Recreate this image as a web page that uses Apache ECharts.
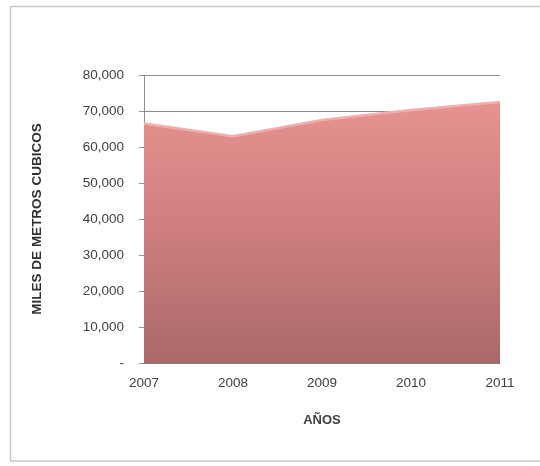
<!DOCTYPE html>
<html>
<head>
<meta charset="utf-8">
<script src="https://cdn.jsdelivr.net/npm/echarts@6/dist/echarts.min.js"></script>
<style>html,body{margin:0;padding:0;background:#fff}#c{width:540px;height:466px}</style>
</head>
<body>
<div id="c"></div>
<script>
var years = ['2007', '2008', '2009', '2010', '2011'];
var values = [66500, 63000, 67500, 70300, 72500];
var yTicks = { min: 0, max: 80000, interval: 10000 };
var yAxisTitle = 'MILES DE METROS CUBICOS';
var xAxisTitle = 'AÑOS';

var chart = echarts.init(document.getElementById('c'), null, { renderer: 'canvas' });
var font = 'Liberation Sans';
chart.setOption({
  animation: false,
  backgroundColor: '#ffffff',
  graphic: [{
    type: 'rect', z: -10,
    shape: { x: 10.5, y: 6.5, width: 540, height: 454.5 },
    style: { fill: 'none', stroke: '#c8c8c8', lineWidth: 1.5 }
  }],
  grid: { left: 144, right: 40, top: 75, bottom: 103, containLabel: false },
  xAxis: {
    type: 'category',
    data: years,
    boundaryGap: false,
    name: xAxisTitle,
    nameLocation: 'middle',
    nameGap: 51,
    nameTextStyle: { fontFamily: font, fontWeight: 'bold', fontSize: 13, color: '#404040' },
    axisLine: { lineStyle: { color: '#808080', width: 1 } },
    axisTick: { show: false },
    axisLabel: { fontFamily: font, fontSize: 13.5, color: '#404040', margin: 13 }
  },
  yAxis: {
    type: 'value',
    min: yTicks.min, max: yTicks.max, interval: yTicks.interval,
    name: yAxisTitle,
    nameLocation: 'middle',
    nameGap: 100,
    nameTextStyle: { fontFamily: font, fontWeight: 'bold', fontSize: 13.5, color: '#303030' },
    axisLine: { show: true, lineStyle: { color: '#909090', width: 1 } },
    axisTick: { show: true, length: 5, inside: false, lineStyle: { color: '#909090' } },
    axisLabel: {
      fontFamily: font, fontSize: 13.5, color: '#404040', margin: 20,
      formatter: function (v) { return v === 0 ? '-' : v.toLocaleString('en-US'); }
    },
    splitLine: { show: true, lineStyle: { color: '#8c8c8c', width: 1 } }
  },
  series: [{
    type: 'line',
    data: values,
    symbol: 'none',
    z: 3,
    lineStyle: { color: '#f2aeac', width: 2.5 },
    areaStyle: {
      opacity: 1,
      color: new echarts.graphic.LinearGradient(0, 0, 0, 1, [
        { offset: 0, color: '#e69391' },
        { offset: 0.5, color: '#cd7e7d' },
        { offset: 1, color: '#a96968' }
      ])
    }
  }]
});
</script>
</body>
</html>
